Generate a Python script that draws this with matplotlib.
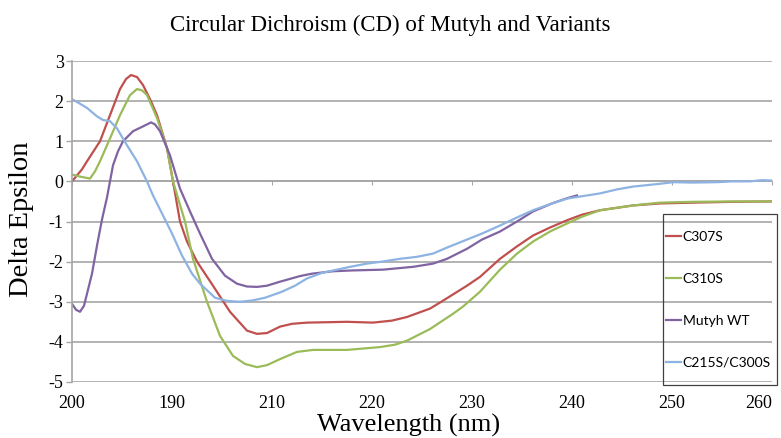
import matplotlib
matplotlib.use("Agg")
import matplotlib.pyplot as plt
from matplotlib.patches import Rectangle

# --- data (wavelength in nm, delta epsilon) ---
wl_c307s = [190, 191, 191.5, 192.8, 193.8, 194.8, 195.4, 195.9, 196.5, 197.1, 197.8, 198.5,
            199.5, 200.1, 200.8, 201.5, 202.5, 204.1, 205.8, 207.5, 208.5, 209.5, 210.8, 212,
            213.5, 217.5, 220.1, 222, 223.5, 225.8, 226.8, 229.5, 230.8, 232.8, 234.5, 236.1,
            237.8, 239.5, 241, 242.8, 246.1, 248.8, 252, 256, 260]
de_c307s = [0.0, 0.3, 0.5, 1.0, 1.65, 2.3, 2.55, 2.65, 2.6, 2.4, 2.05, 1.65,
            0.83, 0.0, -1.0, -1.5, -2.0, -2.6, -3.25, -3.72, -3.8, -3.78, -3.62, -3.55,
            -3.52, -3.5, -3.52, -3.47, -3.38, -3.17, -3.02, -2.6, -2.38, -1.93, -1.62, -1.35,
            -1.15, -0.97, -0.83, -0.72, -0.6, -0.55, -0.53, -0.51, -0.5]

wl_c310s = [190, 190.8, 191.8, 192.3, 192.8, 193.8, 194.8, 195.8, 196.5, 197, 197.5, 198.5,
            199.5, 200.1, 201.3, 202.1, 203.5, 204.8, 206.1, 207.3, 208.5, 209.5, 210.8, 212.5,
            214.1, 217.5, 220.8, 222.3, 223.5, 225.8, 228.1, 229.1, 230.8, 232.8, 234.5, 236.1,
            237.8, 239.5, 241, 242.8, 246.1, 248.8, 252, 256, 260]
de_c310s = [0.17, 0.12, 0.07, 0.25, 0.5, 1.07, 1.65, 2.15, 2.3, 2.27, 2.15, 1.58,
            0.83, 0.0, -1.0, -1.93, -3.0, -3.85, -4.35, -4.55, -4.63, -4.58, -4.43, -4.25,
            -4.2, -4.2, -4.13, -4.07, -3.97, -3.68, -3.3, -3.12, -2.75, -2.2, -1.8, -1.5,
            -1.25, -1.05, -0.88, -0.72, -0.6, -0.53, -0.51, -0.5, -0.5]

wl_wt = [190, 190.4, 190.8, 191.2, 191.6, 192, 192.5, 193, 193.5, 194.1, 194.6, 195.1,
         196.1, 197.1, 197.9, 198.3, 198.8, 199.8, 200.8, 201.8, 202.8, 204, 205.3, 206.5,
         207.5, 208.5, 209.5, 210.8, 212.8, 214, 216.1, 218, 221.1, 224.1, 226.1, 227.5,
         229.5, 231, 232.8, 234.5, 236.1, 238, 239.5, 240.5]
de_wt = [-3.05, -3.2, -3.25, -3.1, -2.7, -2.3, -1.6, -0.95, -0.4, 0.4, 0.75, 1.0,
         1.25, 1.37, 1.47, 1.42, 1.25, 0.65, -0.18, -0.75, -1.3, -1.93, -2.35, -2.55,
         -2.62, -2.63, -2.6, -2.5, -2.36, -2.3, -2.24, -2.22, -2.2, -2.13, -2.05, -1.93,
         -1.68, -1.45, -1.25, -1.0, -0.75, -0.55, -0.42, -0.35]

wl_c215s = [190, 190.7, 191.5, 192.5, 193.1, 193.8, 194.5, 195.5, 196.5, 197.5, 198.1, 199,
            200, 201, 202, 202.8, 204.3, 205.5, 206.8, 208, 209.3, 211, 212.3, 213.5,
            215, 216.5, 218, 219.5, 221, 222.8, 224.5, 226.1, 227.5, 229.5, 231, 232.8,
            234.5, 236.1, 238, 239.5, 241, 242.8, 244.5, 246.1, 248.8, 250.1, 252, 254.5,
            256, 257.8, 259, 260]
de_c215s = [2.05, 1.95, 1.83, 1.62, 1.53, 1.5, 1.32, 0.9, 0.5, 0.0, -0.35, -0.8,
            -1.3, -1.85, -2.3, -2.55, -2.9, -2.98, -3.0, -2.97, -2.9, -2.75, -2.6, -2.42,
            -2.28, -2.2, -2.12, -2.05, -2.0, -1.93, -1.88, -1.8, -1.65, -1.45, -1.3, -1.1,
            -0.9, -0.72, -0.55, -0.43, -0.37, -0.3, -0.2, -0.13, -0.06, -0.02, -0.03, -0.02,
            0.0, 0.0, 0.03, 0.02]

x_ticks = [190, 200, 210, 220, 230, 240, 250, 260]
x_ticklabels = ["200", "190", "210", "220", "230", "240", "250", "260"]
y_ticks = [-5, -4, -3, -2, -1, 0, 1, 2, 3]

W, H = 781, 438
fig = plt.figure(figsize=(W / 100, H / 100), dpi=100)
ax = fig.add_axes([72 / W, 1 - 382 / H, 700 / W, 321 / H])

grid_col = "#a6a6a6"
serif = "Liberation Serif"

ax.plot(wl_c307s, de_c307s, color="#c0504d", lw=1.6, label="C307S")
ax.plot(wl_c310s, de_c310s, color="#9bbb59", lw=1.6, label="C310S")
ax.plot(wl_wt, de_wt, color="#8064a2", lw=1.6, label="Mutyh WT")
ax.plot(wl_c215s, de_c215s, color="#8db3e2", lw=1.6, label="C215S/C300S")

ax.set_xlim(190, 260)
ax.set_ylim(-5, 3)
ax.set_yticks(y_ticks)
ax.set_yticklabels([str(v) for v in y_ticks], family=serif, fontsize=13)
ax.set_xticks(x_ticks)
ax.set_xticklabels(x_ticklabels, family=serif, fontsize=13)
ax.get_xticklabels()[-1].set_horizontalalignment("right")
ax.tick_params(axis="x", length=0, pad=9)
ax.tick_params(axis="y", direction="out", length=4, width=1, color=grid_col, pad=2)
ax.yaxis.grid(True, color=grid_col, lw=1.2)
ax.set_axisbelow(True)
for s in ["top", "right", "bottom"]:
    ax.spines[s].set_visible(False)
ax.spines["left"].set_color(grid_col)
ax.spines["left"].set_linewidth(1.2)

# horizontal axis crossing at zero, with its tick marks
zero_ax = ax.secondary_xaxis(5 / 8)
zero_ax.set_xticks(x_ticks)
zero_ax.set_xticklabels([])
zero_ax.tick_params(direction="in", length=3, color=grid_col)
for s in zero_ax.spines.values():
    s.set_color(grid_col)
    s.set_linewidth(1.2)

fig.text(390 / W, 1 - 25 / H, "Circular Dichroism (CD) of Mutyh and Variants",
         ha="center", va="center", family=serif, fontsize=16.5)
fig.text(409 / W, 1 - 425 / H, "Wavelength (nm)", ha="center", va="center",
         family=serif, fontsize=19)
fig.text(22 / W, 1 - 219 / H, "Delta Epsilon", ha="center", va="center",
         rotation=90, family=serif, fontsize=20.5)

fig.patches.append(Rectangle((663 / W, 1 - 385 / H), 114 / W, 171 / H, fill=False,
                             edgecolor="#404040", lw=0.9, transform=fig.transFigure))
leg = ax.legend(loc="upper left", bbox_to_anchor=(666 / W, 1 - 231 / H),
                bbox_transform=fig.transFigure, frameon=False, borderaxespad=0,
                borderpad=0, handlelength=1.1, handletextpad=0.1, labelspacing=2.15,
                prop={"family": "Lato", "size": 10})

fig.savefig("out.png", dpi=100)
